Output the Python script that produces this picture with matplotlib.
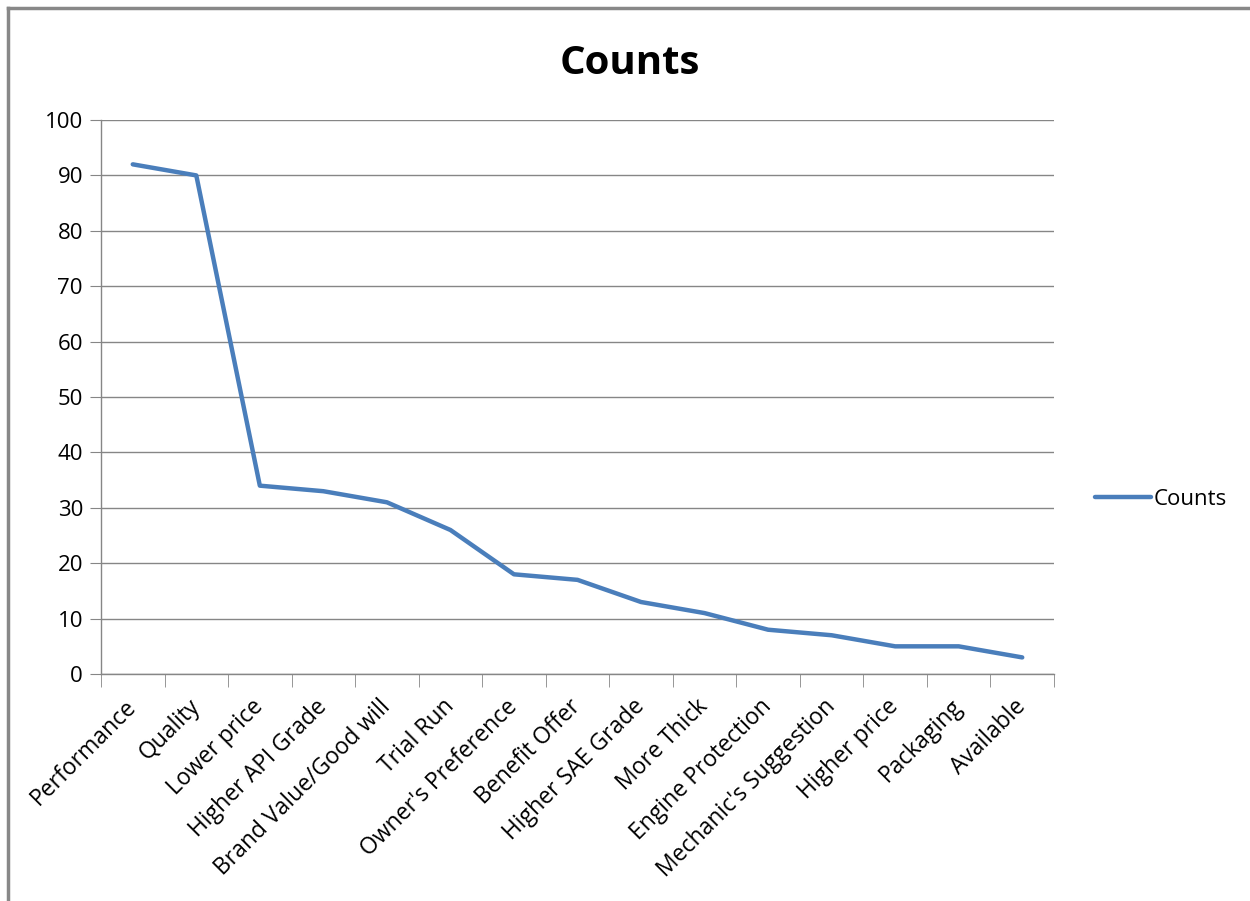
import matplotlib
matplotlib.use('Agg')
import matplotlib.pyplot as plt
from matplotlib.lines import Line2D
import numpy as np

# reasons and how many people picked them
categories = ['Performance', 'Quality', 'Lower price', 'Higher API Grade',
              'Brand Value/Good will', 'Trial Run', "Owner's Preference",
              'Benefit Offer', 'Higher SAE Grade', 'More Thick',
              'Engine Protection', "Mechanic's Suggestion", 'Higher price',
              'Packaging', 'Available']
counts = [92, 90, 34, 33, 31, 26, 18, 17, 13, 11, 8, 7, 5, 5, 3]
y_ticks = [0, 10, 20, 30, 40, 50, 60, 70, 80, 90, 100]

plt.rcParams['font.family'] = ['Open Sans', 'DejaVu Sans']

fig = plt.figure(figsize=(12.5, 9.01), dpi=100)
ax = fig.add_axes([0.0808, 0.2519, 0.7624, 0.6149])

x = np.arange(len(categories))
ax.plot(x, counts, color='#4A7EBB', lw=3.2, solid_joinstyle='round',
        solid_capstyle='round', label='Counts')

ax.set_xlim(-0.5, len(categories) - 0.5)
ax.set_ylim(0, 100)
ax.set_yticks(y_ticks)
ax.yaxis.grid(True, color='#868686', lw=1)
ax.set_axisbelow(True)

for s in ['top', 'right']:
  ax.spines[s].set_visible(False)
for s in ['left', 'bottom']:
  ax.spines[s].set_color('#868686')
  ax.spines[s].set_linewidth(1)

ax.tick_params(axis='y', length=8, color='#868686', labelsize=16, pad=5)
ax.set_xticks(x)
ax.set_xticklabels(categories, rotation=45, ha='right', va='center',
                   rotation_mode='anchor', fontsize=16.5)
ax.tick_params(axis='x', which='major', length=0, pad=21)
ax.set_xticks(np.arange(-0.5, len(categories)), minor=True)
ax.tick_params(axis='x', which='minor', length=9, color='#868686')

fig.text(0.504, 0.929, 'Counts', ha='center', va='center',
         fontsize=29, fontweight='bold')

ax.legend(loc='center left', bbox_to_anchor=(0.876, 0.446),
          bbox_transform=fig.transFigure, frameon=False, fontsize=16,
          handlelength=2.5, handletextpad=0.15, borderpad=0, borderaxespad=0)

# outer chart border (only top and left edges show)
fig.add_artist(Line2D([8/1250, 1.0], [1 - 8/901, 1 - 8/901],
                      transform=fig.transFigure, color='#888888', lw=2.5))
fig.add_artist(Line2D([8/1250, 8/1250], [0.0, 1 - 8/901],
                      transform=fig.transFigure, color='#888888', lw=2.5))

fig.savefig('out.png', dpi=100)
